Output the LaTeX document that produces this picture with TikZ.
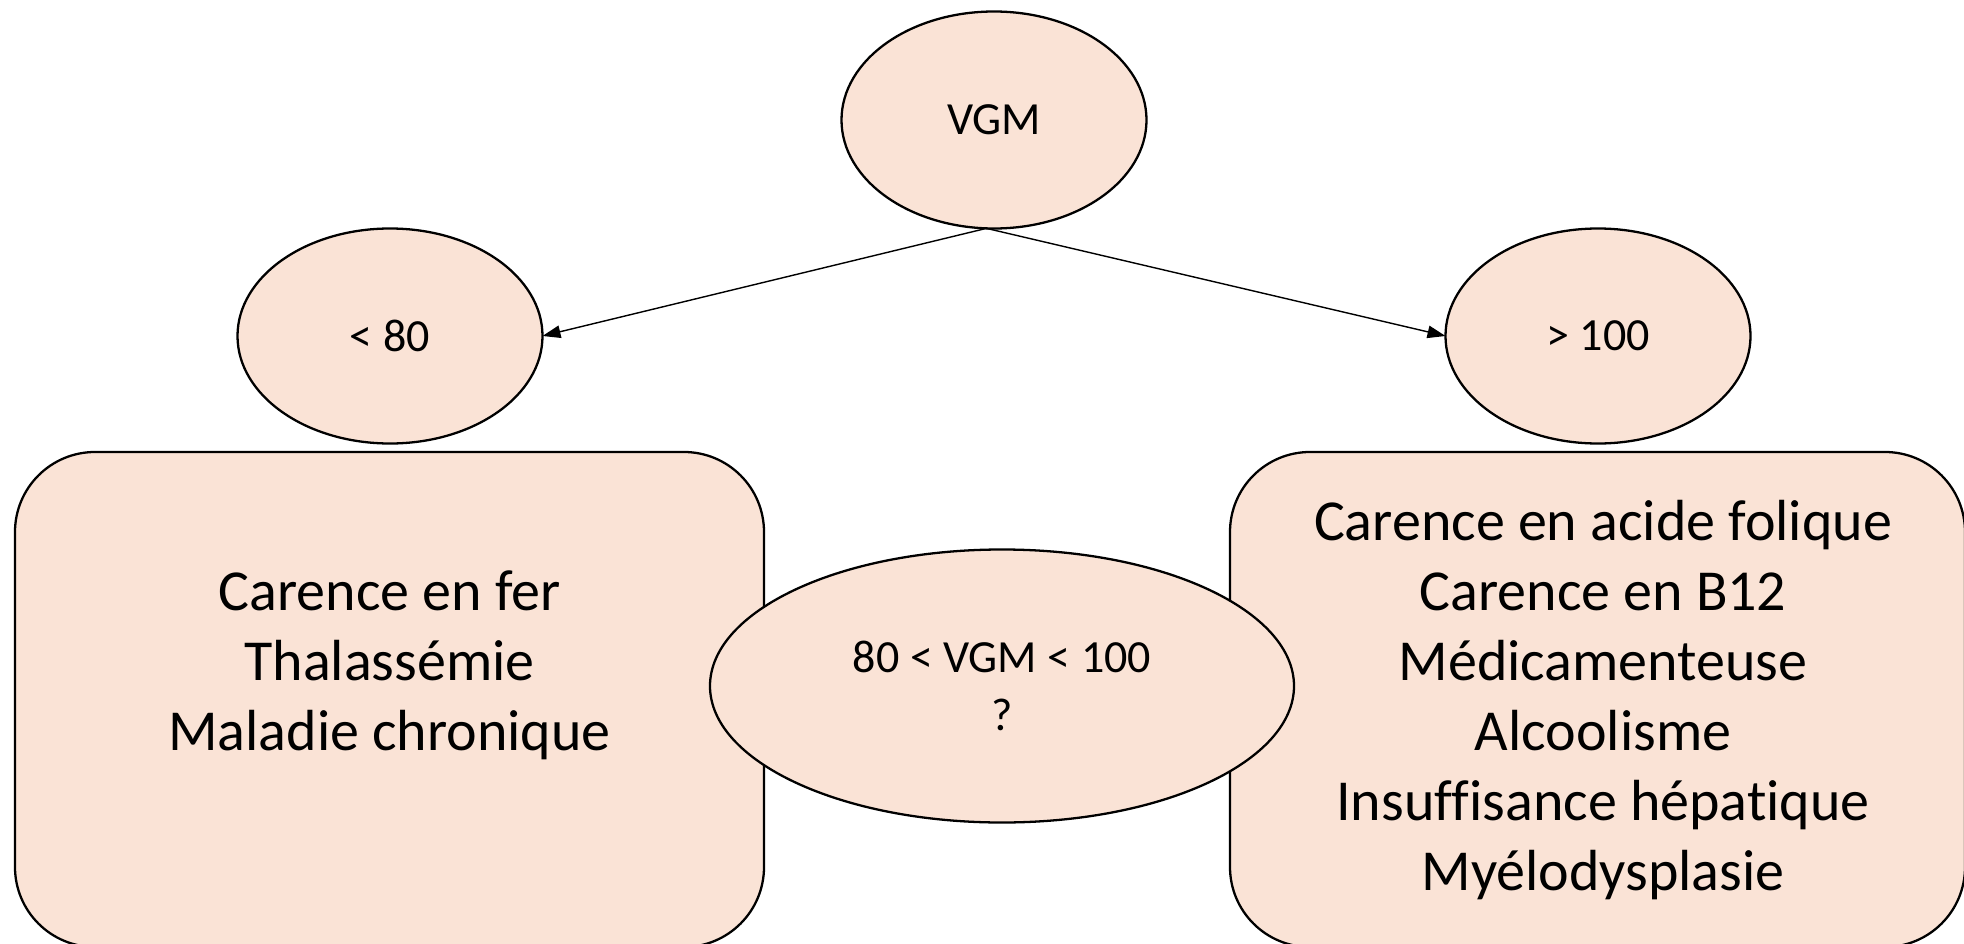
\documentclass[tikz,border=0pt]{standalone}
\usepackage{fontspec}
\setmainfont{Carlito}[Ligatures=NoCommon]
\usetikzlibrary{arrows.meta,shapes.geometric,positioning,calc}
\definecolor{peau}{HTML}{FAE3D6}

\begin{document}
\begin{tikzpicture}

  \tikzstyle{every node}=[font=\fontsize{26.2}{33}\selectfont]

  \tikzset{ovale/.style={ellipse, draw=black, line width=1.3pt, fill=peau,
      inner sep=0pt, outer sep=0pt, align=center},
    boite/.style={rectangle, draw=black, line width=1.3pt, fill=peau,
      rounded corners=1.6cm, inner sep=0pt, outer sep=0pt,
      minimum height=9.9cm},
    grand/.style={font=\fontsize{33}{39.8}\selectfont, align=center},
    fleche/.style={-{Triangle[length=0.36cm,width=0.25cm]}, line width=0.8pt}}

  % Frame of the slide
  \useasboundingbox (0,0) rectangle (39.28,-18.88);

  % Root
  \node[ovale, minimum width=6.1cm, minimum height=4.34cm] (VGM) at (19.88,-2.40) {VGM};

  % Branches
  \node[ovale, minimum width=6.1cm, minimum height=4.3cm] (lt80) at ($(VGM) + (-12.08,-4.32)$) {< 80};
  \node[ovale, minimum width=6.1cm, minimum height=4.3cm] (gt100) at ($(VGM) + (12.08,-4.32)$) {> 100};

  % Causes
  \node[boite, minimum width=14.98cm] (causes lt80) at (7.79,-13.99) {};
  \node[grand] (texte lt80) at ($(causes lt80) + (0,0.69)$)
    {Carence en fer\\Thalassémie\\Maladie chronique};

  \node[boite, minimum width=14.7cm] (causes gt100) at (31.95,-13.99) {};
  \node[grand] (texte gt100) at ($(causes gt100) + (0.11,-0.01)$)
    {Carence en acide folique\\Carence en B12\\Médicamenteuse\\Alcoolisme\\Insuffisance hépatique\\Myélodysplasie};

  % Normal range
  \node[ovale, minimum width=11.68cm, minimum height=5.46cm] (normal) at (20.04,-13.72) {80 < VGM < 100\\?};

  % Arrows
  \draw[fleche] (VGM.266) -- (lt80.east);
  \draw[fleche] (VGM.266) -- (gt100.west);

\end{tikzpicture}
\end{document}
